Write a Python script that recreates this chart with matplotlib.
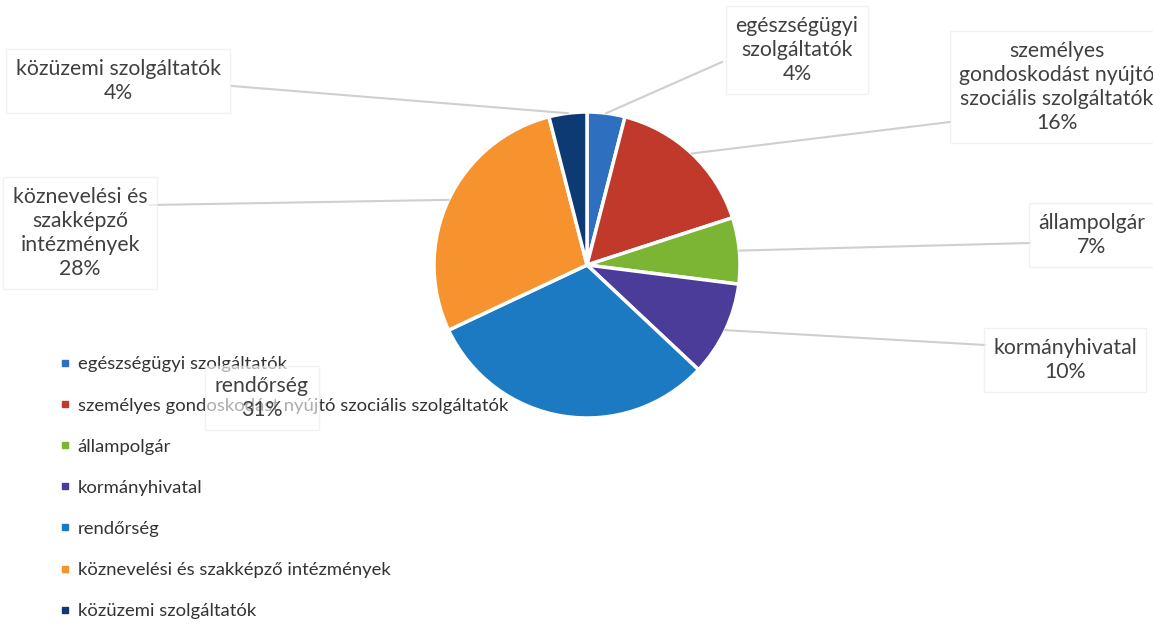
import matplotlib
matplotlib.use("Agg")
import matplotlib.pyplot as plt
import numpy as np
from matplotlib.patches import Rectangle
from matplotlib.lines import Line2D

categories = ["egészségügyi szolgáltatók",
              "személyes gondoskodást nyújtó szociális szolgáltatók",
              "állampolgár",
              "kormányhivatal",
              "rendőrség",
              "köznevelési és szakképző intézmények",
              "közüzemi szolgáltatók"]
values = [4, 16, 7, 10, 31, 28, 4]
label_texts = ["egészségügyi\nszolgáltatók",
               "személyes\ngondoskodást nyújtó\nszociális szolgáltatók",
               "állampolgár",
               "kormányhivatal",
               "rendőrség",
               "köznevelési és\nszakképző\nintézmények",
               "közüzemi szolgáltatók"]
colors = ["#2F6FC0", "#C0392B", "#7CB534", "#4A3C98", "#1B7AC2", "#F7932F", "#0E3A74"]

W, H = 1153, 626
fig = plt.figure(figsize=(W / 100, H / 100), dpi=100)
ax = fig.add_axes([0, 0, 1, 1])
plt.rcParams['font.family'] = ['Lato', 'DejaVu Sans']

def Y(y):
    return H - y

cx, cy, R = 587, 265, 153
wedges, _ = ax.pie(values, colors=colors, startangle=90, counterclock=False,
                   center=(cx, Y(cy)), radius=R,
                   wedgeprops=dict(edgecolor="white", linewidth=2.5))
ax.set_xlim(0, W)
ax.set_ylim(0, H)
ax.set_aspect("equal")
ax.axis("off")

clip = Rectangle((0, Y(413)), W, 413, transform=ax.transData)
for w in wedges:
    w.set_clip_path(clip)

# label positions (pixel coords, y down) and leader line anchors
label_pos = [(797, 50), (1057, 87), (1092, 235), (1065, 360), (262, 398), (80, 233), (118, 81)]
line_start = [(722, 62), (950, 122), (1030, 243), (985, 345), None, (150, 205), (232, 86)]

cum = 0
for i, v in enumerate(values):
    mid = 90 - (cum + v / 2) * 3.6
    cum += v
    ex = cx + R * np.cos(np.radians(mid))
    ey = cy - R * np.sin(np.radians(mid))
    lx, ly = label_pos[i]
    if line_start[i] is not None:
        sx, sy = line_start[i]
        ax.plot([sx, ex], [Y(sy), Y(ey)], color="#cfcfcf", lw=1.5, zorder=1)
    txt = f"{label_texts[i]}\n{v}%"
    ax.text(lx, Y(ly), txt, ha="center", va="center", fontsize=15.3, color="#404040",
            linespacing=1.25, zorder=6,
            bbox=dict(boxstyle="square,pad=0.45", facecolor="white", edgecolor="#e8e8e8",
                      lw=1, alpha=0.6))

handles = [Line2D([0], [0], marker="s", linestyle="none", markersize=5,
                  markerfacecolor=c, markeredgecolor=c) for c in colors]
leg = ax.legend(handles, categories, loc="upper left", bbox_to_anchor=(50 / W, 1 - 349 / H),
                frameon=False, fontsize=13.3, labelspacing=1.36, handletextpad=0.3,
                handlelength=0.8, borderaxespad=0)
for t in leg.get_texts():
    t.set_color("#333333")
leg.set_zorder(5)

fig.savefig("out.png", dpi=100)
